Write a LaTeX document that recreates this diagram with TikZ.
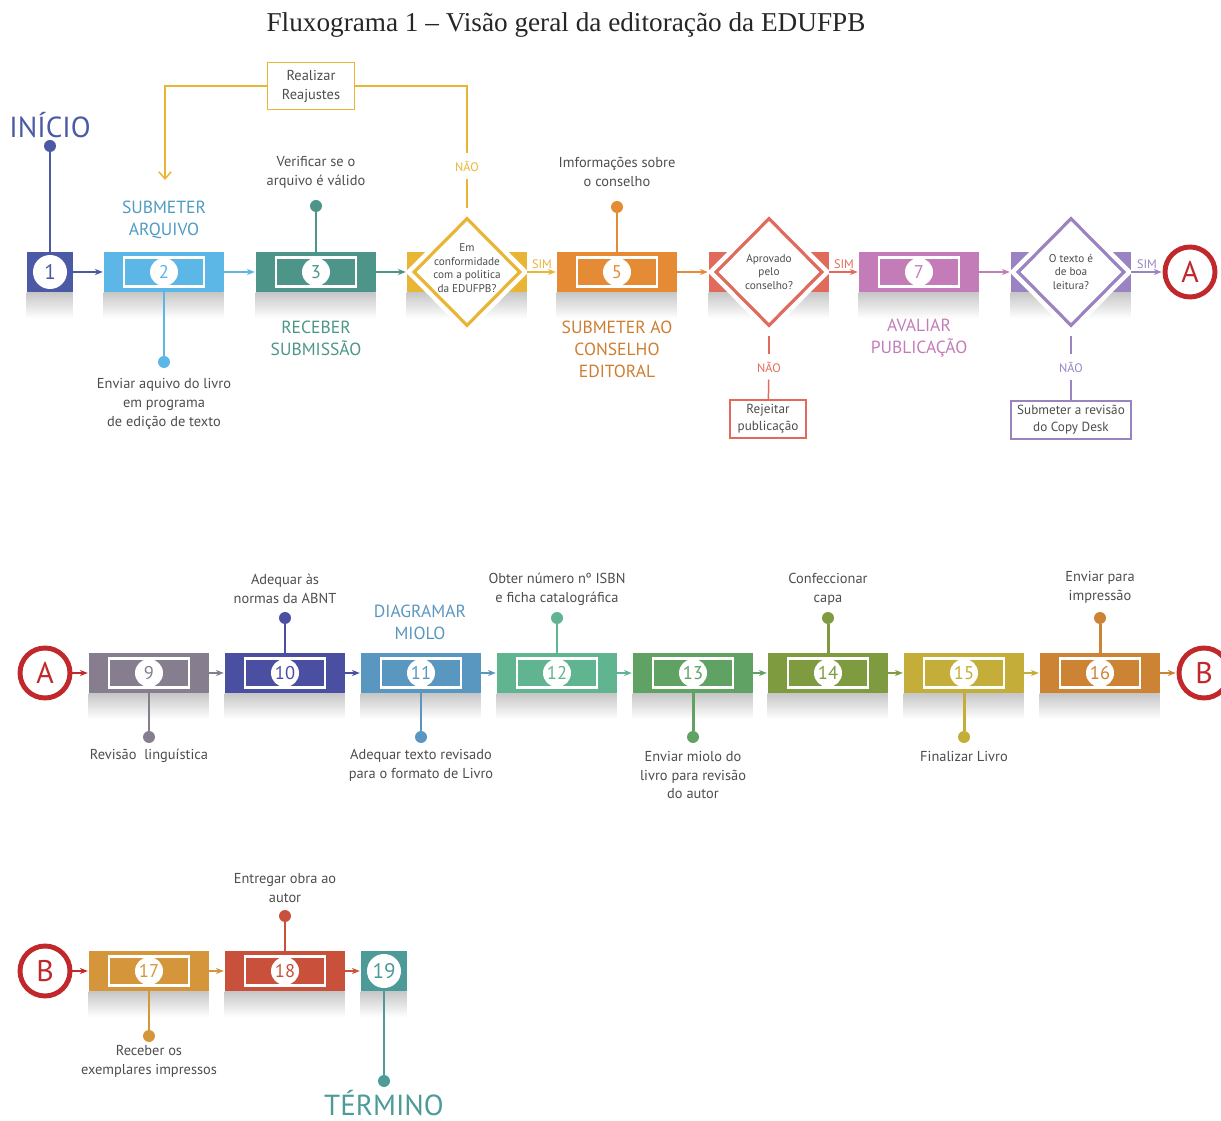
\documentclass[tikz,border=0pt]{standalone}
\usepackage{fontspec}
\setmainfont{PT Sans}
\newfontfamily\titlefont{Liberation Serif}
\usetikzlibrary{arrows.meta, positioning, shapes.geometric}
\usepackage{xcolor}

\definecolor{c1}{HTML}{4B5AA5}
\definecolor{c2}{HTML}{5CB6E6}
\definecolor{c3}{HTML}{4C9588}
\definecolor{c4}{HTML}{E9B535}
\definecolor{c5}{HTML}{E68B35}
\definecolor{c6}{HTML}{E06B5D}
\definecolor{c7}{HTML}{C47CB9}
\definecolor{c8}{HTML}{9A83C1}
\definecolor{c9}{HTML}{867E8F}
\definecolor{c10}{HTML}{4B4FA1}
\definecolor{c11}{HTML}{5A97C0}
\definecolor{c12}{HTML}{60B48F}
\definecolor{c13}{HTML}{5FA264}
\definecolor{c14}{HTML}{7E9B40}
\definecolor{c15}{HTML}{C5AD39}
\definecolor{c16}{HTML}{CD8334}
\definecolor{c17}{HTML}{D5953B}
\definecolor{c18}{HTML}{C9513B}
\definecolor{c19}{HTML}{4D9B98}
\definecolor{cA}{HTML}{C0282B}
\definecolor{ink}{HTML}{4D4D4D}

\begin{document}
\begin{tikzpicture}[x=0.02cm, y=-0.02cm, >={Stealth[length=4.5pt, width=3.5pt]}]
    \tikzstyle{stepbox}=[rectangle, minimum width=2.4cm, minimum height=0.8cm, inner sep=0pt]
    \tikzstyle{endbox}=[stepbox, minimum width=0.92cm]
    \tikzstyle{frame}=[rectangle, draw=white, line width=1.3pt, minimum width=1.6cm, minimum height=0.58cm, inner sep=0pt]
    \tikzstyle{num}=[circle, fill=white, minimum size=0.56cm, inner sep=0pt, font=\fontsize{10.5}{10.5}\selectfont]
    \tikzstyle{bignum}=[num, minimum size=0.68cm, font=\fontsize{12}{12}\selectfont]
    \tikzstyle{shadow}=[top color=black!22, bottom color=white]
    \tikzstyle{dot}=[circle, minimum size=0.24cm, inner sep=0pt]
    \tikzstyle{pin}=[line width=1.7pt]
    \tikzstyle{flow}=[->, line width=0.8pt, shorten >=0.5pt]
    \tikzstyle{note}=[align=center, text=ink, inner sep=0pt, font=\fontsize{8.2}{10.8}\selectfont]
    \tikzstyle{stage}=[align=center, inner sep=0pt, font=\fontsize{10}{12.6}\selectfont]
    \tikzstyle{terminal}=[inner sep=0pt, font=\fontsize{16.5}{16.5}\selectfont]
    \tikzstyle{decision}=[diamond, minimum width=2.14cm, minimum height=2.16cm, inner sep=0pt, fill=white, line width=1.8pt, preaction={draw=white, line width=7pt}]
    \tikzstyle{question}=[align=center, text=ink, inner sep=0pt, font=\fontsize{6.4}{7.7}\selectfont]
    \tikzstyle{answer}=[inner sep=1.5pt, font=\fontsize{7}{7}\selectfont]
    \tikzstyle{branch}=[line width=0.85pt]
    \tikzstyle{outcome}=[rectangle, draw, line width=1pt, fill=white, align=center, text=ink, inner sep=0pt, font=\fontsize{7.5}{9.6}\selectfont]
    \tikzstyle{link}=[circle, draw=cA, line width=2.8pt, fill=white, minimum size=1.0cm, inner sep=0pt, text=cA, font=\fontsize{17}{17}\selectfont]

    \useasboundingbox (0,0) rectangle (1221,1121);

    \node[font=\titlefont\fontsize{15.5}{15.5}\selectfont, text=black!85] (title) at (566,25) {Fluxograma 1 – Visão geral da editoração da EDUFPB};

    % caixas de processo
    \foreach \n/\x/\y in {2/164/272, 3/316/272, 5/617/272, 7/919/272,
                          9/149/673, 10/285/673, 11/421/673, 12/557/673, 13/693/673, 14/828/673, 15/964/673, 16/1100/673,
                          17/149/971, 18/285/971}{
        \node[stepbox, fill=c\n] (S-\n) at (\x,\y) {};
        \shade[shadow] (S-\n.south west) rectangle ++(120,26);
        \node[frame] (F-\n) at (S-\n) {};
        \node[num, text=c\n] (N-\n) at (S-\n) {\n};
    }
    % inicio e fim
    \foreach \n/\x/\y in {1/50/272, 19/384/971}{
        \node[endbox, fill=c\n] (S-\n) at (\x,\y) {};
        \shade[shadow] (S-\n.south west) rectangle ++(46,26);
        \node[bignum, text=c\n] (N-\n) at (S-\n) {\n};
    }
    % decisoes
    \foreach \n/\x in {4/467, 6/769, 8/1071}{
        \node[stepbox, fill=c\n] (S-\n) at (\x,272) {};
        \shade[shadow] (S-\n.south west) rectangle ++(120,26);
        \node[decision, draw=c\n] (D-\n) at (S-\n) {};
    }
    \node[question] (Q-4) at (467,268) {Em\\conformidade\\com a politica\\da EDUFPB?};
    \node[question] (Q-6) at (769,272) {Aprovado\\pelo\\conselho?};
    \node[question] (Q-8) at (1071,272) {O texto é\\de boa\\leitura?};

    % conectores A e B
    \node[link] (A-1) at (1190,272) {A};
    \node[link] (A-2) at (45,673) {A};
    \node[link] (B-1) at (1204,673) {B};
    \node[link] (B-2) at (45,971) {B};

    \foreach \a/\b in {1/2, 2/3, 3/4, 5/6, 7/8, 9/10, 10/11, 11/12, 12/13, 13/14, 14/15, 15/16, 17/18, 18/19}
        \draw[flow, draw=c\a] (S-\a) -- (S-\b);
    \foreach \a/\b in {4/5, 6/7}
        \draw[flow, draw=c\a] (S-\a) -- node[answer, above, text=c\a] (Y-\a) {SIM} (S-\b);
    \draw[flow, draw=c8] (S-8) -- node[answer, above, text=c8] (Y-8) {SIM} (A-1);
    \draw[flow, draw=cA] (A-2) -- (S-9);
    \draw[flow, draw=c16] (S-16) -- (B-1);
    \draw[flow, draw=cA] (B-2) -- (S-17);

    % pinos
    \foreach \n/\x/\y/\s in {1/50/146/north, 2/164/362/south, 3/316/206/north, 5/617/207/north,
                             9/149/737/south, 10/285/618/north, 11/421/737/south, 12/557/618/north,
                             13/693/737/south, 14/828/618/north, 15/964/737/south, 16/1100/618/north,
                             17/149/1036/south, 18/285/916/north, 19/384/1081/south}{
        \node[dot, fill=c\n] (P-\n) at (\x,\y) {};
        \draw[pin, draw=c\n] (S-\n.\s) -- (P-\n);
    }

    \node[terminal, text=c1] (T-1) at (50,125) {INÍCIO};
    \node[note] (T-2) at (164,404) {Enviar aquivo do livro\\em programa\\de edição de texto};
    \node[note] (T-3) at (316,172) {Verificar se o\\arquivo é válido};
    \node[note] (T-5) at (617,172) {Imformações sobre\\o conselho};
    \node[note] (T-9) at (149,756) {Revisão~ linguística};
    \node[note] (T-10) at (285,589) {Adequar às\\normas da ABNT};
    \node[note] (T-11) at (421,765) {Adequar texto revisado\\para o formato de Livro};
    \node[note] (T-12) at (557,589) {Obter número nº ISBN\\e ficha catalográfica};
    \node[note] (T-13) at (693,775) {Enviar miolo do\\livro para revisão\\do autor};
    \node[note] (T-14) at (828,589) {Confeccionar\\capa};
    \node[note] (T-15) at (964,756) {Finalizar Livro};
    \node[note] (T-16) at (1100,587) {Enviar para\\impressão};
    \node[note] (T-17) at (149,1061) {Receber os\\exemplares impressos};
    \node[note] (T-18) at (285,888) {Entregar obra ao\\autor};
    \node[terminal, text=c19, anchor=base] (T-19) at (384,1115) {TÉRMINO};

    \node[stage, text=c2!85!black] (L-2) at (164,220) {SUBMETER\\ARQUIVO};
    \node[stage, text=c3] (L-3) at (316,338) {RECEBER\\SUBMISSÃO};
    \node[stage, text=c5!90!black] (L-5) at (617,349) {SUBMETER AO\\CONSELHO\\EDITORAL};
    \node[stage, text=c7] (L-7) at (919,338) {AVALIAR\\PUBLICAÇÃO};
    \node[stage, text=c11] (L-11) at (420,622) {DIAGRAMAR\\MIOLO};

    % ramos NAO
    \node[answer, text=c4, inner sep=4pt] (M-4) at (467,166) {NÃO};
    \node[outcome, draw=c4, minimum width=1.74cm, minimum height=0.94cm, font=\fontsize{8.2}{10.8}\selectfont] (R-4) at (311,86) {Realizar\\Reajustes};
    \coordinate (E-2) at (165,180);
    \draw[branch, draw=c4, shorten <=5pt] (D-4) -- (M-4);
    \draw[branch, draw=c4] (M-4) |- (R-4);
    \draw[branch, draw=c4, -{Straight Barb[length=4pt, width=7pt]}] (R-4) -| (E-2);

    \node[answer, text=c6, inner sep=4pt] (M-6) at (769,367) {NÃO};
    \node[outcome, draw=c6, minimum width=1.52cm, minimum height=0.76cm] (R-6) at (768,419) {Rejeitar\\publicação};
    \draw[branch, draw=c6, shorten <=5pt] (D-6) -- (M-6);
    \draw[branch, draw=c6] (M-6) -- (R-6);

    \node[answer, text=c8, inner sep=4pt] (M-8) at (1071,367) {NÃO};
    \node[outcome, draw=c8, minimum width=2.4cm, minimum height=0.76cm] (R-8) at (1071,420) {Submeter a revisão\\do Copy Desk};
    \draw[branch, draw=c8, shorten <=5pt] (D-8) -- (M-8);
    \draw[branch, draw=c8] (M-8) -- (R-8);
\end{tikzpicture}
\end{document}
